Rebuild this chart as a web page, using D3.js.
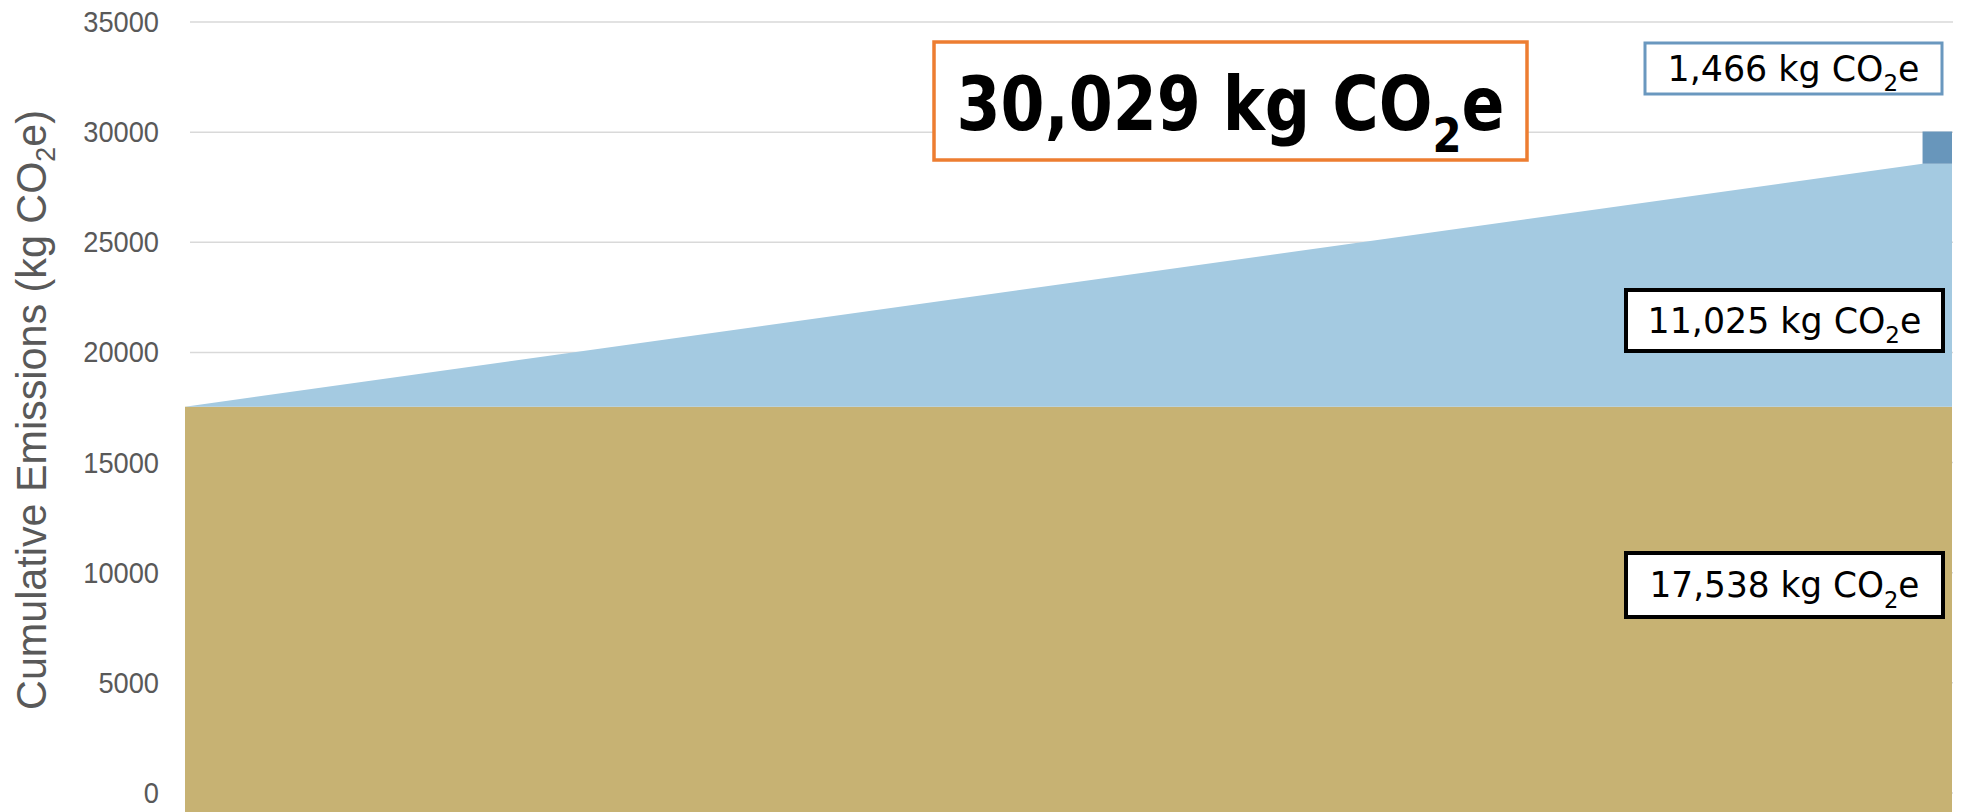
<!DOCTYPE html>
<html>
<head>
<meta charset="utf-8">
<script src="https://cdn.jsdelivr.net/npm/d3@7/dist/d3.min.js"></script>
<style>
  html, body { margin: 0; padding: 0; background: #ffffff; }
  svg { display: block; }
</style>
</head>
<body>
<svg id="chart" width="1963" height="812"></svg>
<script>
// Life-cycle years (x) and cumulative emissions per stage (kg CO2e)
const years = [0, 59, 60];
const embodied = [17538, 17538, 17538];
const operational = [0, 11025, 11025];
const endOfLife = [0, 0, 1466];
const stageKeys = ["embodied", "operational", "endOfLife"];
const stageColors = ["#C7B273", "#A4CAE1", "#6896BB"];
const yTicks = [0, 5000, 10000, 15000, 20000, 25000, 30000, 35000];
const stageTotals = [17538, 11025, 1466];
const grandTotal = 30029;

const W = 1963, H = 812;
const svg = d3.select("#chart");

const x = d3.scaleLinear().domain([0, 60]).range([185, 1952]);
const y = d3.scaleLinear().domain([0, 35000]).range([793, 22]);

const table = years.map((yr, i) => ({
  year: yr,
  embodied: embodied[i],
  operational: operational[i],
  endOfLife: endOfLife[i]
}));
const layers = d3.stack().keys(stageKeys)(table);

// Gridlines
svg.append("g")
  .selectAll("line")
  .data(yTicks)
  .join("line")
  .attr("x1", 190)
  .attr("x2", 1953)
  .attr("y1", d => y(d))
  .attr("y2", d => y(d))
  .attr("stroke", "#d9d9d9")
  .attr("stroke-width", 1.5);

// Tick labels
const tickLabels = svg.append("g")
  .selectAll("text")
  .data(yTicks)
  .join("text")
  .attr("text-anchor", "end")
  .attr("font-family", "'Liberation Sans', Arial, sans-serif")
  .attr("font-size", 29)
  .attr("fill", "#595959")
  .text(d => d)
  .attr("transform", d => `translate(159,${y(d) + 10}) scale(0.94,1)`);

// Stacked areas
const curves = [d3.curveLinear, d3.curveLinear, d3.curveStepBefore];
svg.append("g")
  .selectAll("path")
  .data(layers)
  .join("path")
  .attr("fill", (d, i) => stageColors[i])
  .attr("d", (d, i) => d3.area()
      .curve(curves[i])
      .x(p => x(p.data.year))
      .y0(p => i === 0 ? H : y(p[0]))
      .y1(p => y(p[1]))(d));

// Text with a CO2 subscript, scaled horizontally to a target width
function co2Text(g, prefix, size, weight, family, targetWidth) {
  const t = g.append("text")
    .attr("text-anchor", "middle")
    .attr("font-family", family)
    .attr("font-weight", weight)
    .attr("font-size", size)
    .attr("fill", "#000");
  const sub = size * 0.66, shift = size * 0.3;
  t.append("tspan").text(prefix + "CO");
  t.append("tspan").attr("font-size", sub).attr("dy", shift).text("2");
  t.append("tspan").attr("dy", -shift).text("e");
  const w = t.node().getBBox().width;
  if (targetWidth && w > 0) t.attr("transform", `scale(${targetWidth / w},1)`);
  return t;
}

const fmt = d3.format(",");
const boxFont = "'DejaVu Sans Condensed', 'DejaVu Sans', Tahoma, sans-serif";

// Stage annotation boxes
const boxes = [
  { value: stageTotals[2], x0: 1645, x1: 1942, y0: 43, y1: 94, stroke: "#6A98BF", sw: 3, tw: 252 },
  { value: stageTotals[1], x0: 1626, x1: 1943, y0: 290, y1: 351, stroke: "#000000", sw: 4, tw: 274 },
  { value: stageTotals[0], x0: 1626, x1: 1943, y0: 553, y1: 617, stroke: "#000000", sw: 4, tw: 270 }
];
boxes.forEach(b => {
  svg.append("rect")
    .attr("x", b.x0).attr("y", b.y0)
    .attr("width", b.x1 - b.x0).attr("height", b.y1 - b.y0)
    .attr("fill", "#ffffff")
    .attr("stroke", b.stroke)
    .attr("stroke-width", b.sw);
  const g = svg.append("g")
    .attr("transform", `translate(${(b.x0 + b.x1) / 2},${(b.y0 + b.y1) / 2 + 12})`);
  co2Text(g, fmt(b.value) + " kg ", 35, "normal", boxFont, b.tw);
});

// Total box
svg.append("rect")
  .attr("x", 934).attr("y", 42)
  .attr("width", 593).attr("height", 118)
  .attr("fill", "#ffffff")
  .attr("stroke", "#ED7D31")
  .attr("stroke-width", 3.5);
const gTotal = svg.append("g").attr("transform", `translate(${(934 + 1527) / 2},130)`);
co2Text(gTotal, fmt(grandTotal) + " kg ", 74, "bold", boxFont, 548);

// Y-axis title
const gTitle = svg.append("g").attr("transform", "translate(46,410) rotate(-90)");
const title = gTitle.append("text")
  .attr("text-anchor", "middle")
  .attr("font-family", "'Liberation Sans Narrow', 'Liberation Sans', Arial, sans-serif")
  .attr("font-size", 43)
  .attr("fill", "#595959");
title.append("tspan").text("Cumulative Emissions (kg CO");
title.append("tspan").attr("font-size", 28).attr("dy", 9).text("2");
title.append("tspan").attr("dy", -9).text("e)");
const tw = title.node().getBBox().width;
title.attr("transform", `scale(${600 / tw},1)`);
</script>
</body>
</html>
